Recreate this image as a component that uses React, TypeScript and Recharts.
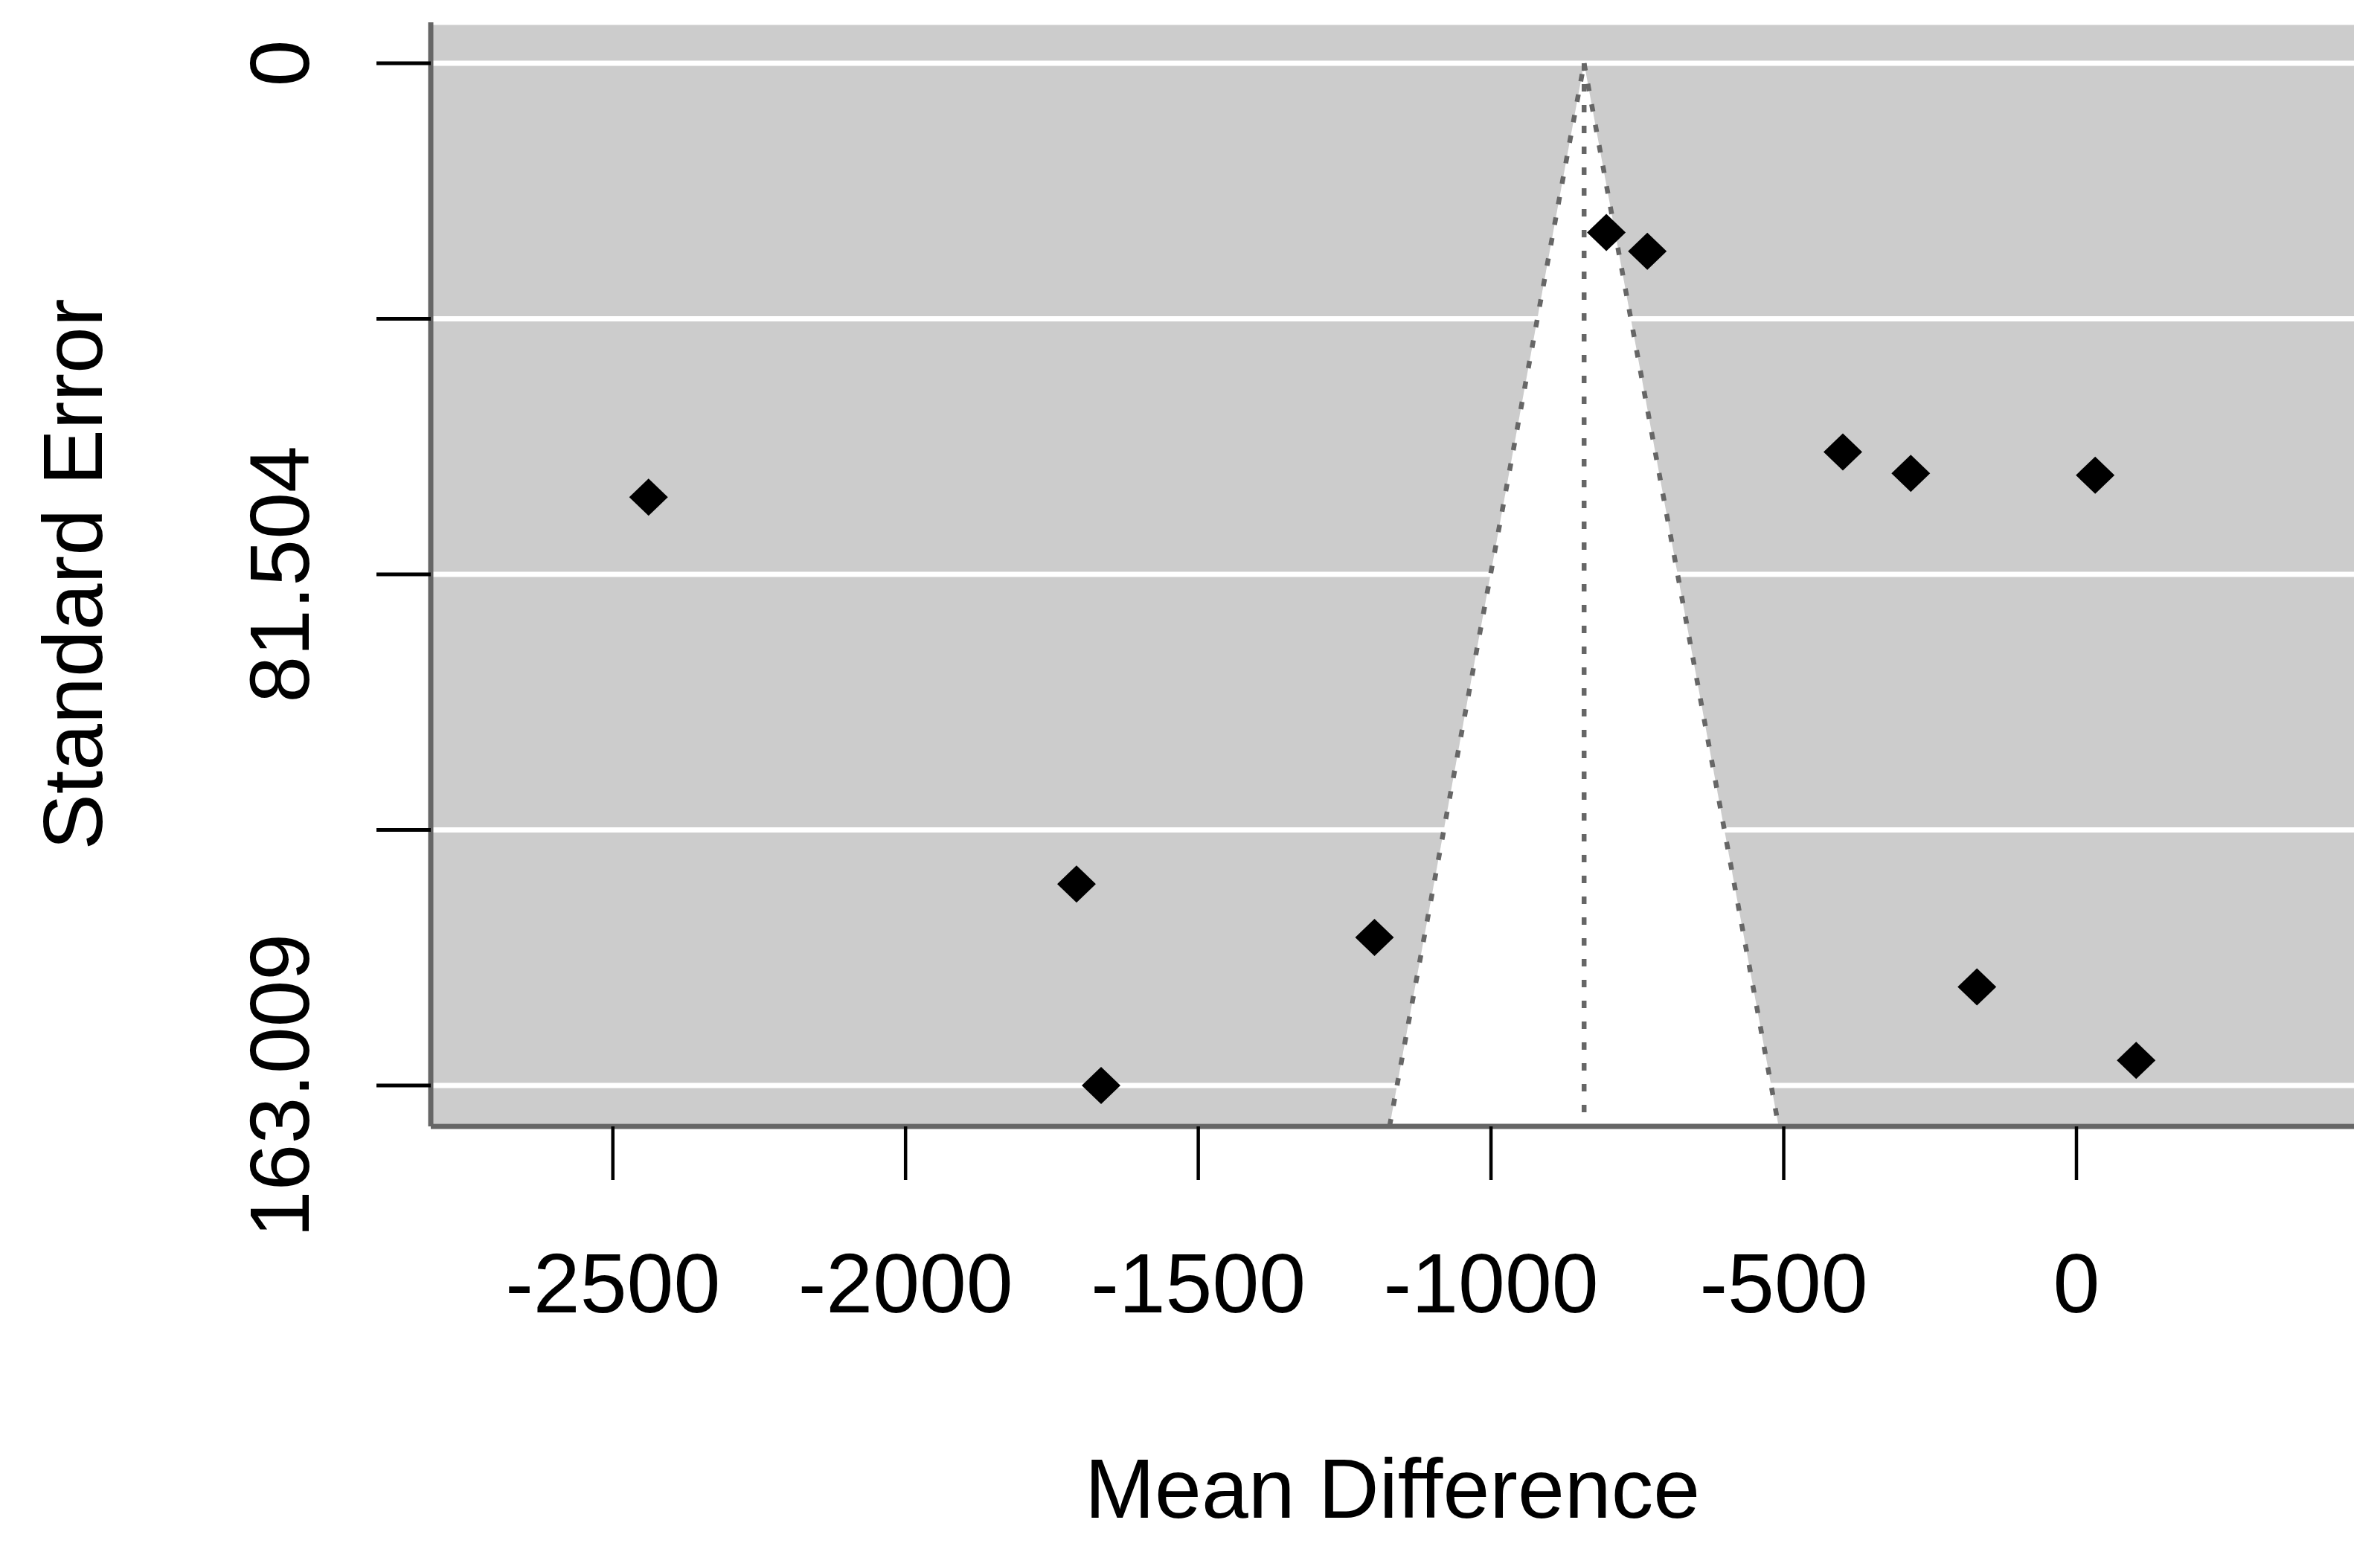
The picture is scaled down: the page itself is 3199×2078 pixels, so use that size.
import {
  ComposedChart,
  XAxis,
  YAxis,
  CartesianGrid,
  Area,
  Line,
  Scatter,
  Label,
} from "recharts";

// study-level estimates
const effects = [-2439, -803, -733, -399, -283, 32, -1708, -1199, -1666, -170, 102];
const standardErrors = [69.2, 27.0, 30.0, 62.0, 65.4, 65.7, 130.9, 139.4, 163.009, 147.3, 159.0];
const pooledEstimate = -841;

const xTicks = [-2500, -2000, -1500, -1000, -500, 0];
const yTicks = [0, 40.752, 81.504, 122.257, 163.009];
const yTickLabels = ["0", "", "81.504", "", "163.009"];
const xDomain = [-2811, 474];
const yDomain = [-6.52, 169.53];

const FONT = '"Liberation Sans", Arial, Helvetica, sans-serif';
const FONT_SIZE = 113;

const points = effects.map((x, i) => ({ x, y: standardErrors[i] }));
const seMax = yDomain[1];
const funnel = [
  { x: pooledEstimate - 1.96 * seMax, y: seMax },
  { x: pooledEstimate, y: 0 },
  { x: pooledEstimate + 1.96 * seMax, y: seMax },
];
const leftEdge = funnel.slice(0, 2);
const rightEdge = funnel.slice(1);
const centerLine = [
  { x: pooledEstimate, y: 0 },
  { x: pooledEstimate, y: seMax },
];

function Diamond(props: any) {
  const { cx, cy } = props;
  if (cx == null || cy == null) return null;
  const rx = 26;
  const ry = 25;
  return (
    <polygon
      points={`${cx},${cy - ry} ${cx + rx},${cy} ${cx},${cy + ry} ${cx - rx},${cy}`}
      fill="#000000"
    />
  );
}

function XTick(props: any) {
  const { x, payload } = props;
  return (
    <text x={x} y={1764} textAnchor="middle" fontSize={FONT_SIZE} fontFamily={FONT} fill="#000">
      {String(payload.value)}
    </text>
  );
}

function YTick(props: any) {
  const { y, payload } = props;
  const label = yTickLabels[yTicks.indexOf(payload.value)];
  if (!label) return null;
  const bx = 415;
  return (
    <text
      x={bx}
      y={y}
      transform={`rotate(-90, ${bx}, ${y})`}
      textAnchor="middle"
      fontSize={FONT_SIZE}
      fontFamily={FONT}
      fill="#000"
    >
      {label}
    </text>
  );
}

function XTitle(props: any) {
  const { viewBox } = props;
  const cx = viewBox.x + viewBox.width / 2;
  return (
    <text x={cx} y={viewBox.y + 526} textAnchor="middle" fontSize={FONT_SIZE} fontFamily={FONT} fill="#000">
      Mean Difference
    </text>
  );
}

function YTitle(props: any) {
  const { viewBox } = props;
  const cy = viewBox.y + viewBox.height / 2;
  const bx = 137;
  return (
    <text
      x={bx}
      y={cy}
      transform={`rotate(-90, ${bx}, ${cy})`}
      textAnchor="middle"
      fontSize={FONT_SIZE}
      fontFamily={FONT}
      fill="#000"
    >
      Standard Error
    </text>
  );
}

const dotted = { stroke: "#666666", strokeWidth: 6.5, strokeDasharray: "10 18" };

export default function App() {
  return (
    <div style={{ position: "absolute", left: 0, top: 0, background: "#fff" }}>
      <ComposedChart
        width={3199}
        height={2078}
        margin={{ top: 30, right: 35, bottom: 0, left: 0 }}
      >
        <CartesianGrid
          vertical={false}
          fill="#cccccc"
          fillOpacity={1}
          stroke="#ffffff"
          strokeWidth={7}
        />
        <XAxis
          type="number"
          dataKey="x"
          domain={xDomain}
          ticks={xTicks}
          allowDataOverflow
          height={564}
          tickSize={72}
          tickLine={{ stroke: "#000", strokeWidth: 4.5 }}
          axisLine={{ stroke: "#666666", strokeWidth: 7 }}
          tick={<XTick />}
        >
          <Label content={<XTitle />} />
        </XAxis>
        <YAxis
          type="number"
          dataKey="y"
          reversed
          domain={yDomain}
          ticks={yTicks}
          allowDataOverflow
          width={579}
          tickSize={73}
          tickLine={{ stroke: "#000", strokeWidth: 5 }}
          axisLine={{ stroke: "#666666", strokeWidth: 7 }}
          tick={<YTick />}
        >
          <Label content={<YTitle />} />
        </YAxis>
        <Area
          data={funnel}
          dataKey="y"
          type="linear"
          baseValue={seMax}
          fill="#ffffff"
          fillOpacity={1}
          stroke="none"
          isAnimationActive={false}
        />
        <Line data={leftEdge} dataKey="y" type="linear" dot={false} {...dotted} isAnimationActive={false} />
        <Line data={rightEdge} dataKey="y" type="linear" dot={false} {...dotted} isAnimationActive={false} />
        <Line data={centerLine} dataKey="y" type="linear" dot={false} {...dotted} isAnimationActive={false} />
        <Scatter data={points} dataKey="y" shape={<Diamond />} isAnimationActive={false} />
      </ComposedChart>
    </div>
  );
}
